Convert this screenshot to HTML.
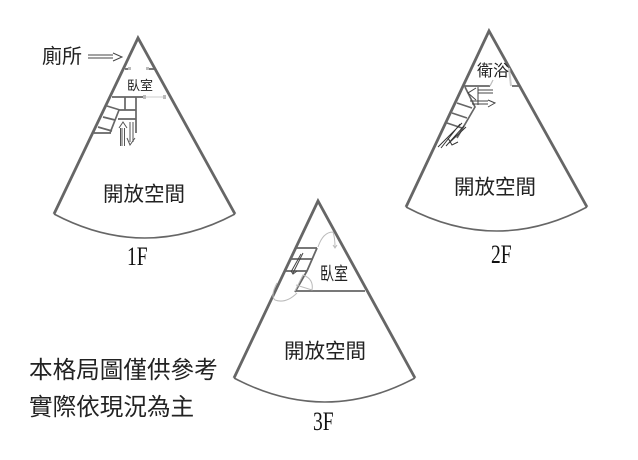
<!DOCTYPE html>
<html><head><meta charset="utf-8"><style>
html,body{margin:0;padding:0;background:#fff}
svg{display:block}
.c{font-family:"Liberation Sans","Noto Sans CJK TC",sans-serif;fill:#222}
.s{font-family:"Liberation Serif",serif;fill:#111}
</style></head><body>
<svg width="638" height="460" viewBox="0 0 638 460" xmlns="http://www.w3.org/2000/svg">
<g fill="none" stroke="#666" stroke-width="2.8">
<path d="M54 214L138 38L235 214"/>
<path d="M406 207L489 31L587 207"/>
<path d="M234 378L318 201L415 378"/>
</g>
<g fill="none" stroke="#666" stroke-width="1.6">
<path d="M54 214Q145 262 235 214"/>
<path d="M406 207Q497 255 587 207"/>
<path d="M234 378Q325 426 415 378"/>
</g>
<!-- 1F details -->
<g fill="none" stroke="#666" stroke-width="1.7">
<path d="M125 69H130M147 69H156M112 97H143M125 97V110M136 97V133M119 110H136M118 119H136M119 110L110 133M107 106L120 110M103 117L115 120M98 127L112 131M94 133H111"/>
</g>
<path d="M143 97H165" stroke="#ccc" stroke-width="1"/>
<g fill="#bbb"><rect x="128" y="67" width="3" height="3"/><rect x="146" y="67" width="3" height="3"/><rect x="143" y="95" width="3" height="4"/><rect x="163" y="95" width="3" height="4"/></g>
<g fill="none" stroke="#555" stroke-width="1">
<path d="M119 128L123 122L127 128M120.500 128V146M122 128V146M124.500 128V146M130 122V142M133 122V142M127 138L130 145L135 138"/>
<path d="M88 55H113M88 58H113M113 53L122 57L113 61" stroke="#444"/>
</g>
<!-- 2F details -->
<g fill="none" stroke="#666" stroke-width="1.7">
<path d="M464 86H490M512 86H520M465 87L475 107L457 138M457 103L472 108M452 113L467 118M447 123L462 128"/>
</g>
<path d="M490 86L493 80" stroke="#bbb" stroke-width="1.2" fill="none"/>
<path d="M509 68L511 86" stroke="#ccc" stroke-width="2" fill="none"/>
<g fill="none" stroke="#444" stroke-width="1">
<path d="M476 88L468 93L476 100M478 90H493M478 93H493M478 87V105M470 101H488M472 104H488M488 100L495 103L488 107"/>
<path d="M462 123L438 147M460 124L441 148M464 126L446 146M466 127L449 143M448 138L452 145L458 142" stroke="#333"/>
</g>
<!-- 3F details -->
<g fill="none" stroke="#666" stroke-width="1.8">
<path d="M296 248H317M290 259H313M284 271H307M317 248L307 271L295 292M295 291H365"/>
</g>
<g fill="none" stroke="#444" stroke-width="1">
<path d="M303 253L293 273M301 254L291 272M291 271L293 274L297 271"/>
</g>
<g fill="none" stroke="#bbb" stroke-width="1">
<path d="M318 247Q323 232 333 232Q335 238 335 247M333 245L335 248L337 245"/>
<path d="M295 291L303 275Q314 279 312 290L296 285"/>
<path d="M277 283Q270 296 275 300Q286 304 297 293"/>
</g>
<!-- labels -->
<text class="c" x="42" y="63" font-size="20">廁所</text>
<text class="c" x="127" y="90" font-size="13">臥室</text>
<text class="c" x="477" y="76" font-size="16">衛浴</text>
<text class="c" transform="translate(320 280) scale(0.78 1)" font-size="18">臥室</text>
<text class="c" x="103" y="201" font-size="20.500">開放空間</text>
<text class="c" x="454" y="194" font-size="20.500">開放空間</text>
<text class="c" x="284" y="358" font-size="20.500">開放空間</text>
<text class="s" transform="translate(127 265) scale(0.75 1)" font-size="26">1F</text>
<text class="s" transform="translate(491 263) scale(0.75 1)" font-size="26">2F</text>
<text class="s" transform="translate(313 430) scale(0.75 1)" font-size="26">3F</text>
<text class="c" x="29" y="378" font-size="23.600">本格局圖僅供參考</text>
<text class="c" x="29" y="415" font-size="23.600">實際依現況為主</text>
</svg>
</body></html>
